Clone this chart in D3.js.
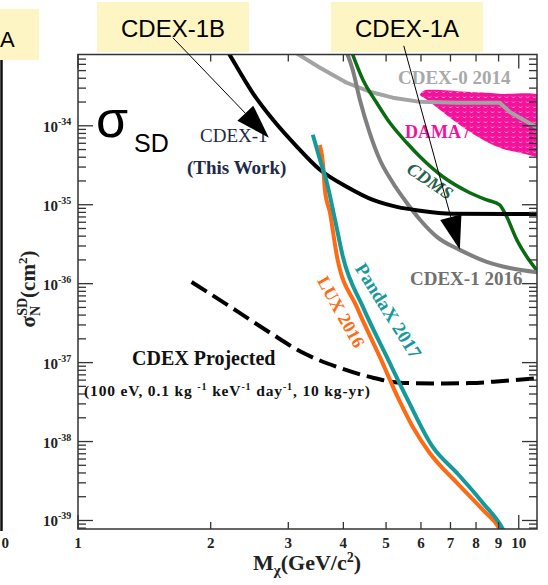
<!DOCTYPE html>
<html>
<head>
<meta charset="UTF-8">
<style>
body {margin:0; background:#fff;}
svg text {font-family: "Liberation Serif", "Times New Roman", serif;}
.sans {font-family: "Liberation Sans", Arial, sans-serif !important;}
</style>
<script src="https://d3js.org/d3.v7.min.js"></script>
<title>CDEX spin-dependent</title>
</head>
<body>
<svg id="chart" width="548" height="585"></svg>
<script>
// ---- data: [mass GeV, sigma cm^2] ----
var massTicks = [1, 2, 3, 4, 5, 6, 7, 8, 9, 10];
var sigmaDecades = [-34, -35, -36, -37, -38, -39];

var cdex1ThisWork = [[2.18, 9e-34], [2.21, 7.9e-34], [2.49, 2.62e-34], [2.77, 1.19e-34], [3.14, 5.42e-35],
    [3.54, 2.77e-35], [4.07, 1.69e-35], [4.67, 1.15e-35], [5.29, 9.4e-36], [5.97, 8.4e-36], [7.08, 7.7e-36], [11.2, 7.6e-36]];
var cdex0_2014 = [[3.1, 8.6e-34], [3.54, 5.43e-34], [4.07, 3.51e-34], [4.59, 2.70e-34], [5.18, 2.27e-34],
    [5.97, 2.01e-34], [7.24, 1.96e-34], [9.05, 1.96e-34], [9.54, 1.50e-34], [11.2, 9.0e-35]];
var cdms = [[4.16, 9.2e-34], [4.43, 3.83e-34], [4.76, 1.96e-34], [5.10, 1.09e-34], [5.57, 6.09e-35], [5.97, 4.05e-35],
    [6.73, 2.26e-35], [7.74, 1.42e-35], [8.46, 1.15e-35], [9.05, 9.97e-36], [9.39, 7.03e-36], [9.90, 3.59e-36],
    [10.43, 2.19e-36], [11.2, 1.3e-36]];
var cdex1_2016 = [[4.05, 9.2e-34], [4.20, 5.13e-34], [4.36, 2.14e-34], [4.59, 8.15e-35], [4.84, 3.71e-35],
    [5.18, 1.90e-35], [5.57, 1.06e-35], [5.97, 6.46e-36], [6.52, 3.92e-36], [7.35, 2.68e-36], [8.46, 1.89e-36],
    [9.54, 1.58e-36], [11.2, 1.38e-36]];
var lux2016 = [[3.538, 5.7e-35], [3.594, 3.40e-35], [3.632, 1.55e-35], [3.73, 7.9e-36], [3.87, 2.19e-36],
    [4.29, 5.08e-37], [4.84, 1.18e-37], [5.35, 3.37e-38], [5.75, 1.53e-38], [6.28, 7.17e-39], [7.24, 2.99e-39],
    [8.29, 1.36e-39], [9.05, 7.8e-40], [9.2, 6.5e-40]];
var pandax2017 = [[3.41, 7.69e-35], [3.54, 3.71e-35], [3.67, 1.90e-35], [3.83, 6.44e-36], [3.99, 2.19e-36],
    [4.43, 5.08e-37], [5.02, 1.18e-37], [5.60, 3.37e-38], [6.38, 8.55e-39], [7.24, 4.0e-39], [8.29, 1.67e-39],
    [9.2, 7.8e-40], [9.35, 6.5e-40]];
var cdexProjected = [[1.81, 1.05e-36], [2.29, 4.52e-37], [2.73, 2.38e-37], [3.24, 1.33e-37], [3.87, 8.82e-38],
    [4.59, 6.59e-38], [5.46, 5.53e-38], [6.52, 5.45e-38], [7.74, 5.5e-38], [9.2, 5.86e-38], [11.2, 6.4e-38]];
var damaRegion = [[5.97, 2.47e-34], [6.09, 2.78e-34], [6.38, 2.86e-34], [7.62, 2.70e-34], [9.05, 2.55e-34],
    [11.6, 2.2e-34], [11.6, 4.2e-35], [10.05, 4.55e-35], [9.05, 5.26e-35], [8.29, 6.65e-35], [7.62, 8.89e-35],
    [7.08, 1.19e-34], [6.62, 1.60e-34], [6.19, 2.14e-34]];
// arrows from the callout boxes: [from, to]
var arrow1B = [[1.642, 1.30e-33], [2.711, 7.05e-35]];
var arrow1A = [[5.485, 1.03e-33], [7.35, 2.68e-36]];

// ---- setup ----
var plot = {left: 78, right: 537, top: 54.5, bottom: 529};
var x = d3.scaleLog().domain([1, 11]).range([plot.left, plot.right]);
var y = d3.scaleLog().domain([7.8e-40, 8e-34]).range([plot.bottom, plot.top]);

var svg = d3.select("#chart");
var defs = svg.append("defs");
defs.append("clipPath").attr("id", "clip").append("rect")
    .attr("x", plot.left).attr("y", plot.top)
    .attr("width", plot.right - plot.left).attr("height", plot.bottom - plot.top);
var pat = defs.append("pattern").attr("id", "damaHatch").attr("patternUnits", "userSpaceOnUse")
    .attr("width", 7).attr("height", 5);
pat.append("rect").attr("width", 7).attr("height", 5).attr("fill", "#f5129b");
pat.append("path").attr("d", "M1,1.5 L2.5,3 L4,1.5").attr("fill", "none")
    .attr("stroke", "#fff").attr("stroke-width", 0.8).attr("opacity", 0.75);

// neighbour panel remnant on the left
svg.append("line").attr("x1", 1.5).attr("x2", 1.5).attr("y1", 60).attr("y2", 531)
    .attr("stroke", "#111").attr("stroke-width", 2.5);
svg.append("rect").attr("x", 0).attr("y", 9).attr("width", 39).attr("height", 51).attr("fill", "#fdf5c3");
svg.append("text").attr("class", "sans").attr("x", 0).attr("y", 47)
    .attr("font-size", 22).text("A");
svg.append("text").attr("x", 9).attr("y", 548).attr("text-anchor", "end")
    .attr("font-size", 15).attr("font-weight", "bold").attr("fill", "#222").text("0");

var line = d3.line().x(function(d) { return x(d[0]); }).y(function(d) { return y(d[1]); });
var g = svg.append("g").attr("clip-path", "url(#clip)");

// DAMA label sits under the region
g.append("text").attr("x", 405).attr("y", 138).attr("font-size", 18).attr("font-weight", "bold")
    .attr("fill", "#f5129b").text("DAMA /");
g.append("path").datum(damaRegion)
    .attr("d", d3.line().x(function(d) { return x(d[0]); }).y(function(d) { return y(d[1]); })
        .curve(d3.curveCatmullRomClosed.alpha(0.5)))
    .attr("fill", "url(#damaHatch)");

g.append("path").datum(cdex0_2014).attr("d", line)
    .attr("fill", "none").attr("stroke", "#a3a3a3").attr("stroke-width", 4).attr("stroke-linejoin", "round");
g.append("path").datum(cdms).attr("d", line.curve(d3.curveMonotoneX))
    .attr("fill", "none").attr("stroke", "#0b6b12").attr("stroke-width", 3.5);
g.append("path").datum(cdex1_2016).attr("d", line)
    .attr("fill", "none").attr("stroke", "#7f7f7f").attr("stroke-width", 4);
g.append("path").datum(cdex1ThisWork).attr("d", line)
    .attr("fill", "none").attr("stroke", "#000").attr("stroke-width", 4);
g.append("path").datum(cdexProjected).attr("d", line)
    .attr("fill", "none").attr("stroke", "#000").attr("stroke-width", 4).attr("stroke-dasharray", "18,7");
g.append("path").datum(lux2016).attr("d", line)
    .attr("fill", "none").attr("stroke", "#ff6a13").attr("stroke-width", 4);
g.append("path").datum(pandax2017).attr("d", line)
    .attr("fill", "none").attr("stroke", "#16999a").attr("stroke-width", 4);

// ---- frame and ticks ----
svg.append("rect").attr("x", plot.left).attr("y", plot.top)
    .attr("width", plot.right - plot.left).attr("height", plot.bottom - plot.top)
    .attr("fill", "none").attr("stroke", "#333").attr("stroke-width", 1.5);

var ticks = svg.append("g").attr("stroke", "#333").attr("stroke-width", 1.3);
massTicks.forEach(function(m) {
    var len = (m == 1 || m == 10) ? 14 : 7;
    ticks.append("line").attr("x1", x(m)).attr("x2", x(m)).attr("y1", plot.bottom).attr("y2", plot.bottom - len);
    ticks.append("line").attr("x1", x(m)).attr("x2", x(m)).attr("y1", plot.top).attr("y2", plot.top + len);
});
y.ticks().forEach(function(s) {
    var major = Math.abs(Math.log10(s) - Math.round(Math.log10(s))) < 1e-6;
    var len = major ? 15 : 8;
    ticks.append("line").attr("x1", plot.left).attr("x2", plot.left + len).attr("y1", y(s)).attr("y2", y(s));
    ticks.append("line").attr("x1", plot.right).attr("x2", plot.right - len).attr("y1", y(s)).attr("y2", y(s));
});

svg.append("g").selectAll("text").data(massTicks).enter().append("text")
    .attr("x", function(d) { return x(d); }).attr("y", 548)
    .attr("text-anchor", "middle").attr("font-size", 15).attr("font-weight", "bold").attr("fill", "#222")
    .text(function(d) { return d; });

var yl = svg.append("g").selectAll("text").data(sigmaDecades).enter().append("text")
    .attr("x", 43).attr("y", function(d) { return y(Math.pow(10, d)) + 6; })
    .attr("font-size", 15).attr("font-weight", "bold").attr("fill", "#222");
yl.append("tspan").text("10");
yl.append("tspan").attr("font-size", 10).attr("dy", -7).text(function(d) { return d; });

// axis titles
var yt = svg.append("text").attr("transform", "translate(35,289) rotate(-90)")
    .attr("text-anchor", "middle").attr("font-size", 21).attr("font-weight", "bold").attr("fill", "#222");
yt.append("tspan").text("σ");
yt.append("tspan").attr("font-size", 14).attr("dy", 5).text("N");
yt.append("tspan").attr("font-size", 14).attr("dx", -10).attr("dy", -13).text("SD");
yt.append("tspan").attr("dy", 8).text("(cm");
yt.append("tspan").attr("font-size", 13).attr("dy", -8).text("2");
yt.append("tspan").attr("dy", 8).text(")");

var xt = svg.append("text").attr("x", 307).attr("y", 570)
    .attr("text-anchor", "middle").attr("font-size", 22).attr("font-weight", "bold").attr("fill", "#222");
xt.append("tspan").text("M");
xt.append("tspan").attr("font-size", 15).attr("dy", 5).text("χ");
xt.append("tspan").attr("dy", -5).text("(GeV/c");
xt.append("tspan").attr("font-size", 14).attr("dy", -8).text("2");
xt.append("tspan").attr("dy", 8).text(")");

// ---- curve labels ----
svg.append("text").attr("class", "sans").attr("x", 96).attr("y", 137).attr("font-size", 52).text("σ");
svg.append("text").attr("class", "sans").attr("x", 134).attr("y", 152).attr("font-size", 25).text("SD");

svg.append("text").attr("x", 200).attr("y", 142).attr("font-size", 19).attr("fill", "#1d2a48").text("CDEX-1");
svg.append("text").attr("x", 187).attr("y", 174).attr("font-size", 19).attr("font-weight", "bold")
    .attr("fill", "#1d2a48").text("(This Work)");
svg.append("text").attr("x", 398).attr("y", 84).attr("font-size", 19).attr("font-weight", "bold")
    .attr("fill", "#a9a9a9").text("CDEX-0 2014");
svg.append("text").attr("x", 410).attr("y", 285).attr("font-size", 19).attr("font-weight", "bold")
    .attr("fill", "#707070").text("CDEX-1 2016");
svg.append("text").attr("transform", "translate(430,181) rotate(34)").attr("text-anchor", "middle")
    .attr("dy", 6).attr("font-size", 18).attr("font-weight", "bold").attr("font-style", "italic")
    .attr("fill", "#25604a").text("CDMS");
svg.append("text").attr("transform", "translate(341,312) rotate(61)").attr("text-anchor", "middle")
    .attr("dy", 6).attr("font-size", 18).attr("font-weight", "bold").attr("fill", "#ff6a13").text("LUX 2016");
svg.append("text").attr("transform", "translate(388,311) rotate(58)").attr("text-anchor", "middle")
    .attr("dy", 6).attr("font-size", 19).attr("font-weight", "bold").attr("fill", "#16999a").text("PandaX 2017");
svg.append("text").attr("x", 132).attr("y", 365).attr("font-size", 20).attr("font-weight", "bold")
    .attr("fill", "#111").text("CDEX Projected");
var pr = svg.append("text").attr("x", 84).attr("y", 396).attr("font-size", 15.5).attr("font-weight", "bold")
    .attr("fill", "#111").attr("textLength", 286).attr("lengthAdjust", "spacing");
pr.append("tspan").text("(100 eV, 0.1 kg ");
pr.append("tspan").attr("font-size", 10).attr("dy", -6).text("-1");
pr.append("tspan").attr("dy", 6).text(" keV");
pr.append("tspan").attr("font-size", 10).attr("dy", -6).text("-1");
pr.append("tspan").attr("dy", 6).text(" day");
pr.append("tspan").attr("font-size", 10).attr("dy", -6).text("-1");
pr.append("tspan").attr("dy", 6).text(", 10 kg-yr)");

// ---- callouts with arrows ----
function callout(cx, text) {
    svg.append("rect").attr("x", cx - 76).attr("y", 2).attr("width", 152).attr("height", 50).attr("fill", "#fdf5c3");
    svg.append("text").attr("class", "sans").attr("x", cx).attr("y", 37).attr("text-anchor", "middle")
        .attr("font-size", 24).text(text);
}
function arrow(a) {
    var x0 = x(a[0][0]), y0 = y(a[0][1]), x1 = x(a[1][0]), y1 = y(a[1][1]);
    var dx = x1 - x0, dy = y1 - y0, l = Math.sqrt(dx * dx + dy * dy);
    var ux = dx / l, uy = dy / l, L = 34, w = 11;
    var bx = x1 - L * ux, by = y1 - L * uy;
    svg.append("line").attr("x1", x0).attr("y1", y0).attr("x2", bx).attr("y2", by)
        .attr("stroke", "#000").attr("stroke-width", 1);
    svg.append("polygon").attr("fill", "#000")
        .attr("points", [[x1, y1], [bx - w * uy, by + w * ux], [bx + w * uy, by - w * ux]].join(" "));
}
callout(173, "CDEX-1B");
callout(407, "CDEX-1A");
arrow(arrow1B);
arrow(arrow1A);
</script>
</body>
</html>
